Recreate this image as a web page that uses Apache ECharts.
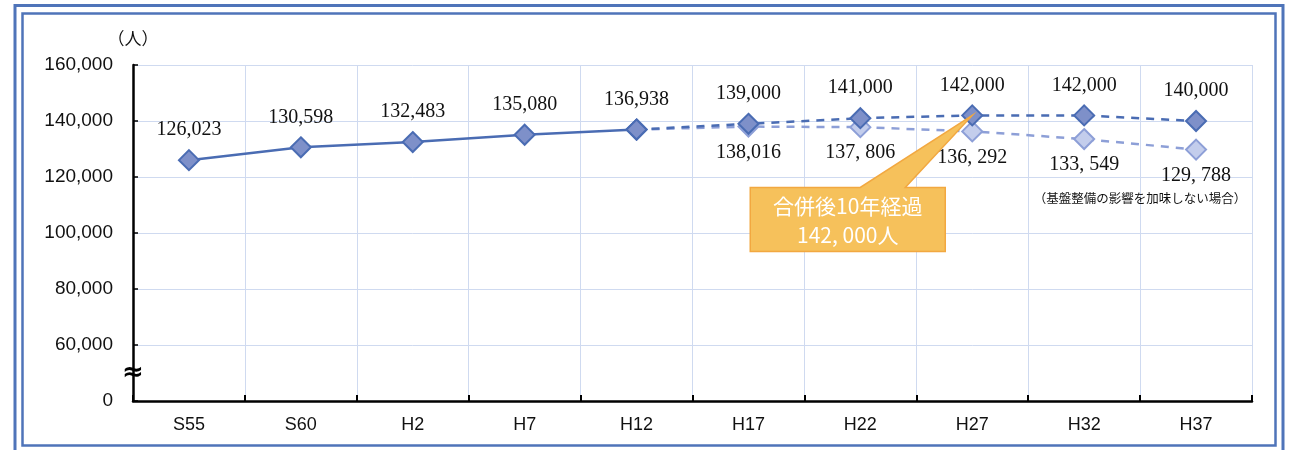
<!DOCTYPE html>
<html><head><meta charset="utf-8">
<script src="https://cdn.jsdelivr.net/npm/echarts@6/dist/echarts.min.js"></script>
<style>html,body{margin:0;padding:0;background:#fff}#c{width:1300px;height:450px}</style>
</head><body><div id="c"></div>
<script>
const categories = ['S55','S60','H2','H7','H12','H17','H22','H27','H32','H37'];
const actual     = [126023,130598,132483,135080,136938,null,null,null,null,null];
const planned    = [null,null,null,null,136938,139000,141000,142000,142000,140000];
const noInfra    = [null,null,null,null,136938,138016,137806,136292,133549,129788];
const yTicks     = [40000,60000,80000,100000,120000,140000,160000];
const yTickLabels= ['0','60,000','80,000','100,000','120,000','140,000','160,000'];
const noteText   = '（基盤整備の影響を加味しない場合）';
const calloutTitle = '合併後10年経過';
const calloutIndex = 7;

const fmt = (v, spaced) => {
  const s = Number(v).toLocaleString('en-US');
  return spaced ? s.replace(/,/g, ', ') : s;
};

const dark = '#4a6cb3', darkFill = '#7e90c9';
const light = '#8d9fd7', lightFill = '#c3cdec';
const serif = '"Liberation Serif","DejaVu Serif",serif';

const chart = echarts.init(document.getElementById('c'), null, {renderer:'canvas'});
const option = {
  backgroundColor:'#fff',
  animation:false,
  grid:{left:133,right:48,top:65,bottom:49,containLabel:false},
  xAxis:{
    type:'category', data:categories, boundaryGap:true,
    axisLine:{lineStyle:{color:'#000',width:2.5}},
    axisTick:{show:true,inside:true,length:6,lineStyle:{color:'#000',width:2}},
    axisLabel:{color:'#111',fontSize:18,fontFamily:'"Liberation Sans",Arial,sans-serif',margin:15},
    splitLine:{show:true,lineStyle:{color:'#cfdaf0',width:1}}
  },
  yAxis:{
    type:'value', min:yTicks[0], max:yTicks[yTicks.length-1], interval:20000,
    name:'（人）', nameLocation:'end', nameGap:18,
    nameTextStyle:{color:'#111',fontSize:17,fontFamily:'"Noto Sans CJK JP",sans-serif',align:'center'},
    axisLine:{show:true,lineStyle:{color:'#000',width:2.5}},
    axisTick:{show:true,inside:true,length:5,lineStyle:{color:'#000',width:1.5}},
    axisLabel:{color:'#111',fontSize:19,fontFamily:'"Liberation Sans",Arial,sans-serif',margin:20,
      formatter:v=>{const i=yTicks.indexOf(v);return i>=0?yTickLabels[i]:'';}},
    splitLine:{show:true,lineStyle:{color:'#cfdaf0',width:1}}
  },
  series:[
    {name:'noInfra',type:'line',data:noInfra,z:2,
      symbol:'diamond',symbolSize:20,
      lineStyle:{color:light,width:2.5,type:[8,7]},
      itemStyle:{color:lightFill,borderColor:light,borderWidth:2},
      showSymbol:true,
      label:{show:true,position:'bottom',distance:5,color:'#111',fontSize:20,fontFamily:serif,
        formatter:p=>p.dataIndex<=4?'':fmt(p.value,p.dataIndex>=6)}
    },
    {name:'planned',type:'line',data:planned,z:3,
      symbol:'diamond',symbolSize:20,
      lineStyle:{color:dark,width:2.5,type:[8,7]},
      itemStyle:{color:darkFill,borderColor:dark,borderWidth:2},
      label:{show:true,position:'top',distance:9,color:'#111',fontSize:20,fontFamily:serif,
        formatter:p=>p.dataIndex<=4?'':fmt(p.value,false)}
    },
    {name:'actual',type:'line',data:actual,z:4,
      symbol:'diamond',symbolSize:20,
      lineStyle:{color:dark,width:2.5},
      itemStyle:{color:darkFill,borderColor:dark,borderWidth:2},
      label:{show:true,position:'top',distance:9,color:'#111',fontSize:20,fontFamily:serif,
        formatter:p=>fmt(p.value,false)}
    }
  ]
};
chart.setOption(option);

// annotations anchored to data coordinates
const tip = chart.convertToPixel({seriesIndex:1},[calloutIndex, planned[calloutIndex]]);
const bx0 = tip[0]-222, bx1 = tip[0]-27, by0 = tip[1]+72, by1 = tip[1]+136;
const brk = chart.convertToPixel({seriesIndex:0},[0,50000]);
const yAxisX = chart.convertToPixel({xAxisIndex:0},0) - (chart.convertToPixel({xAxisIndex:0},1)-chart.convertToPixel({xAxisIndex:0},0))/2;
const n1 = chart.convertToPixel({seriesIndex:0},[8,112500]);
const n2 = chart.convertToPixel({seriesIndex:0},[9,112500]);

chart.setOption({graphic:[
  {type:'rect',shape:{x:15,y:5.5,width:1268,height:460},style:{fill:'none',stroke:'#4f74b9',lineWidth:3},silent:true},
  {type:'rect',shape:{x:22.5,y:13.5,width:1253,height:432},style:{fill:'none',stroke:'#4f74b9',lineWidth:2.5},silent:true},
  {type:'text',x:yAxisX,y:brk[1],style:{text:'≈',fontSize:26,fontWeight:'bold',fill:'#000',align:'center',verticalAlign:'middle',fontFamily:'"DejaVu Sans",sans-serif'},z:100},
  {type:'text',x:(n1[0]+n2[0])/2,y:n1[1],style:{text:noteText,fontSize:12.5,fill:'#111',align:'center',verticalAlign:'middle',fontFamily:'"Noto Sans CJK JP",sans-serif'},z:100},
  {type:'polygon',z:100,shape:{points:[[bx0,by0],[tip[0]-112,by0],[tip[0],tip[1]],[tip[0]-67,by0],[bx1,by0],[bx1,by1],[bx0,by1]]},
    style:{fill:'#f6c15b',stroke:'#f2a840',lineWidth:1.5}},
  {type:'text',z:101,x:(bx0+bx1)/2,y:(by0+by1)/2+1,style:{text:calloutTitle+'\n'+fmt(planned[calloutIndex],true)+'人',
    fill:'#fff',fontSize:21,lineHeight:29,align:'center',verticalAlign:'middle',fontFamily:'"Noto Sans CJK JP",sans-serif'}}
]});
</script></body></html>
